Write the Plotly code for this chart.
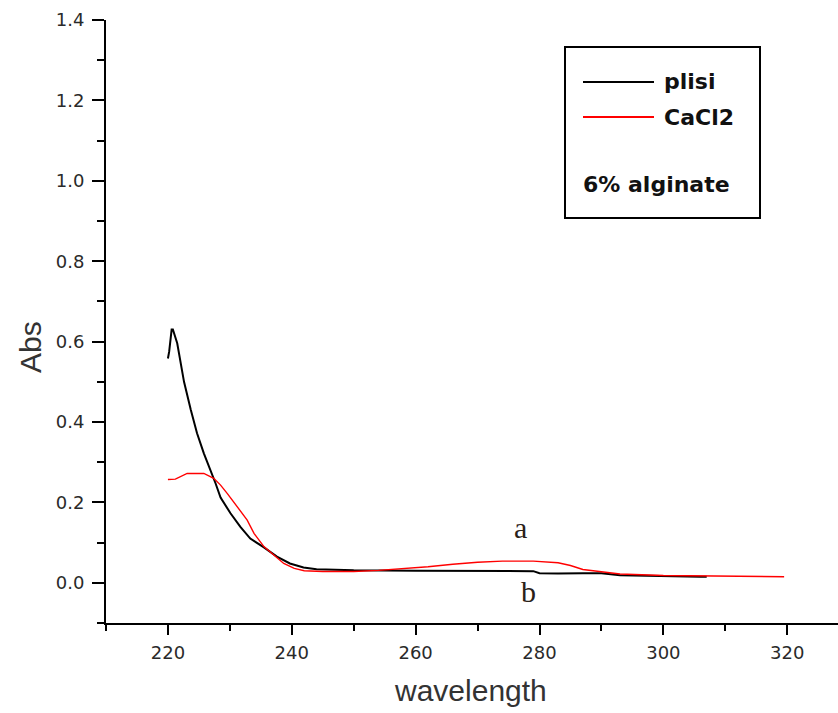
import plotly.graph_objects as go

# UV absorbance spectra, 6% alginate beads
wl_plisi = [220.0, 220.2, 220.6, 220.8, 221.5, 222.0, 222.6, 223.7, 224.7, 225.8,
            226.9, 227.7, 228.5, 230.1, 231.7, 233.3, 235.5, 237.6, 239.7, 241.9,
            244.0, 246.7, 250.0, 260.0, 270.0, 279.0, 280.0, 283.0, 287.0, 290.0,
            293.0, 300.0, 306.0, 307.0]
abs_plisi = [0.558, 0.575, 0.630, 0.630, 0.596, 0.554, 0.500, 0.430, 0.372, 0.322,
             0.280, 0.247, 0.212, 0.173, 0.139, 0.110, 0.088, 0.065, 0.048, 0.038,
             0.034, 0.032, 0.031, 0.030, 0.029, 0.029, 0.024, 0.023, 0.024, 0.024,
             0.019, 0.016, 0.015, 0.015]

wl_cacl2 = [220.0, 221.2, 223.1, 225.8, 227.4, 228.5, 229.6, 231.2, 232.8, 233.9,
            235.5, 237.1, 238.7, 240.4, 242.0, 245.0, 250.0, 254.0, 258.0, 262.0,
            266.0, 270.0, 274.0, 279.0, 283.0, 285.0, 287.0, 290.0, 293.0, 300.0,
            306.0, 310.0, 319.5]
abs_cacl2 = [0.257, 0.258, 0.272, 0.272, 0.260, 0.243, 0.222, 0.189, 0.156, 0.123,
             0.090, 0.069, 0.048, 0.036, 0.030, 0.028, 0.028, 0.031, 0.035, 0.040,
             0.046, 0.051, 0.054, 0.054, 0.050, 0.043, 0.033, 0.027, 0.022, 0.018,
             0.017, 0.015, 0.015]

series_names = ["plisi", "CaCl2"]
series_colors = ["#000000", "#ff0000"]
note_text = "6% alginate"

# curve labels: (text, wavelength, absorbance)
curve_labels = [("a", 276.9, 0.137), ("b", 278.3, -0.022)]

x_range = [210, 328.2]
y_range = [-0.1, 1.4]

fig = go.Figure()
fig.add_trace(go.Scatter(x=wl_plisi, y=abs_plisi, mode="lines", name=series_names[0],
                         line=dict(color=series_colors[0], width=2), showlegend=False))
fig.add_trace(go.Scatter(x=wl_cacl2, y=abs_cacl2, mode="lines", name=series_names[1],
                         line=dict(color=series_colors[1], width=1.4), showlegend=False))

W, H = 838, 713
ml, mr, mt, mb = 106, 0, 20, 90
pw, ph = W - ml - mr, H - mt - mb


def px(x):
    return (x - ml) / pw


def py(y):
    return 1 - (y - mt) / ph


# legend-style box drawn in paper coordinates
shapes = [
    dict(type="rect", xref="paper", yref="paper", x0=px(565), x1=px(760), y0=py(218), y1=py(47),
         line=dict(color="#000000", width=2), fillcolor="rgba(0,0,0,0)"),
    dict(type="line", xref="paper", yref="paper", x0=px(583), x1=px(654), y0=py(82), y1=py(82),
         line=dict(color=series_colors[0], width=2)),
    dict(type="line", xref="paper", yref="paper", x0=px(583), x1=px(654), y0=py(117), y1=py(117),
         line=dict(color=series_colors[1], width=2)),
]

legend_font = dict(family="DejaVu Sans", size=22, color="#111111")
annotations = [
    dict(text="<b>" + series_names[0] + "</b>", xref="paper", yref="paper", x=px(662), y=py(82),
         xanchor="left", yanchor="middle", showarrow=False, font=legend_font),
    dict(text="<b>" + series_names[1] + "</b>", xref="paper", yref="paper", x=px(662), y=py(117),
         xanchor="left", yanchor="middle", showarrow=False, font=legend_font),
    dict(text="<b>" + note_text + "</b>", xref="paper", yref="paper", x=px(581), y=py(184),
         xanchor="left", yanchor="middle", showarrow=False, font=legend_font),
    # axis titles
    dict(text="wavelength", xref="paper", yref="paper", x=px(470), y=py(690),
         xanchor="center", yanchor="middle", showarrow=False,
         font=dict(family="Liberation Sans", size=30, color="#333333")),
    dict(text="Abs", xref="paper", yref="paper", x=px(30), y=py(347), textangle=-90,
         xanchor="center", yanchor="middle", showarrow=False,
         font=dict(family="Liberation Sans", size=30, color="#333333")),
]
for txt, xv, yv in curve_labels:
    annotations.append(dict(text=txt, x=xv, y=yv, xref="x", yref="y", showarrow=False,
                            xanchor="center", yanchor="middle",
                            font=dict(family="Liberation Serif", size=30, color="#2a2118")))

tick_font = dict(family="DejaVu Sans", size=18, color="#2a2a2a")

fig.update_layout(
    width=W, height=H,
    margin=dict(l=ml, r=mr, t=mt, b=mb, pad=0),
    paper_bgcolor="white", plot_bgcolor="white",
    showlegend=False,
    shapes=shapes,
    annotations=annotations,
    xaxis=dict(range=x_range, tick0=220, dtick=20, ticks="outside", ticklen=10, tickwidth=2,
               tickcolor="#000000", showline=True, linecolor="#000000", linewidth=2,
               showgrid=False, zeroline=False, tickfont=tick_font, ticklabelstandoff=2,
               minor=dict(tick0=210, dtick=10, ticks="outside", ticklen=6, tickwidth=2,
                          tickcolor="#000000", showgrid=False)),
    yaxis=dict(range=y_range, tick0=0, dtick=0.2, tickformat=".1f", ticks="outside", ticklen=12,
               tickwidth=2, tickcolor="#000000", showline=True, linecolor="#000000", linewidth=2,
               showgrid=False, zeroline=False, tickfont=tick_font, ticklabelstandoff=4,
               minor=dict(tick0=0.1, dtick=0.2, ticks="outside", ticklen=7, tickwidth=2,
                          tickcolor="#000000", showgrid=False)),
)

fig.write_html("out.html")
